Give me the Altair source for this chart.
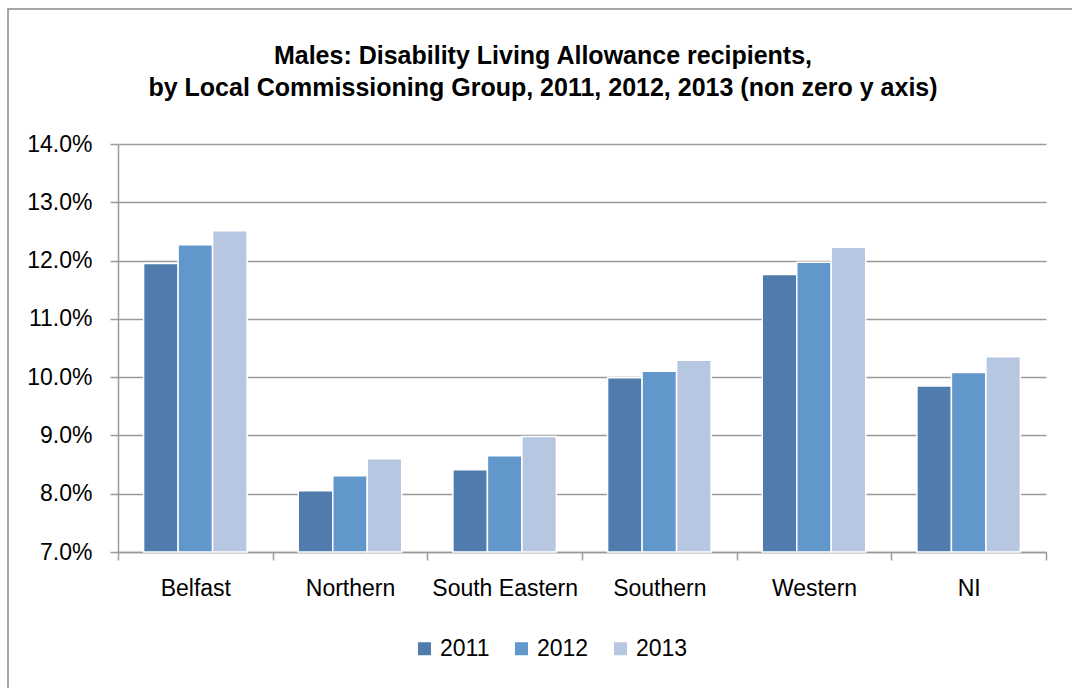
import altair as alt
import pandas as pd

groups = ["Belfast", "Northern", "South Eastern", "Southern", "Western", "NI"]
years = ["2011", "2012", "2013"]
v2011 = [11.95, 8.05, 8.41, 9.99, 11.76, 9.85]
v2012 = [12.27, 8.31, 8.65, 10.10, 11.97, 10.08]
v2013 = [12.51, 8.60, 8.98, 10.29, 12.23, 10.35]
colors = ["#4F7BAD", "#6197CA", "#B8C7E1"]
y_ticks = [0.07, 0.08, 0.09, 0.10, 0.11, 0.12, 0.13, 0.14]

rows = []
for yr, vals in zip(years, [v2011, v2012, v2013]):
    for g, v in zip(groups, vals):
        rows.append({"group": g, "year": yr, "value": v / 100.0})
df = pd.DataFrame(rows)

FONT = "Liberation Sans"
GRAY = "#9a9a9a"

bars = alt.Chart(df).mark_bar(stroke="white", strokeWidth=1.5).encode(
    x=alt.X("group:N", sort=groups,
            scale=alt.Scale(paddingInner=0, paddingOuter=0),
            axis=alt.Axis(title=None, labelAngle=0, tickBand="extent", grid=False,
                          tickSize=8, labelPadding=17, domainColor=GRAY, tickColor=GRAY,
                          domainWidth=1.5, tickWidth=1.5)),
    xOffset=alt.XOffset("year:N", sort=years,
                        scale=alt.Scale(paddingInner=0, paddingOuter=0.742)),
    y=alt.Y("value:Q",
            scale=alt.Scale(domain=[0.07, 0.14], zero=False, clamp=True, nice=False),
            axis=alt.Axis(title=None, values=y_ticks, format=".1%", grid=True,
                          gridColor=GRAY, gridWidth=1.5, domainColor=GRAY, tickColor=GRAY,
                          domainWidth=1.5, tickWidth=1.5, tickSize=8, labelPadding=18)),
    color=alt.Color("year:N", sort=years,
                    scale=alt.Scale(domain=years, range=colors),
                    legend=alt.Legend(title=None, orient="none", direction="horizontal",
                                      legendX=295, legendY=493, symbolType="square",
                                      symbolSize=169, symbolStrokeWidth=0, labelOffset=4,
                                      columnPadding=20, padding=0,
                                      labelFont=FONT, labelFontSize=23, labelColor="black")),
)

border = alt.Chart(alt.Data(values=[{"a": 1}])).mark_rect(
    fill="transparent", stroke="#8a8a8a", strokeWidth=1.5
).encode(
    x=alt.value(-110), x2=alt.value(1100), y=alt.value(-135), y2=alt.value(700)
)

chart = alt.layer(border, bars).properties(
    width=928, height=408,
    padding={"left": 118, "top": 144, "right": 26, "bottom": 136},
    autosize=alt.AutoSizeParams(type="none"),
    title=alt.TitleParams(
        text=["Males: Disability Living Allowance recipients,",
              "by Local Commissioning Group, 2011, 2012, 2013 (non zero y axis)"],
        font=FONT, fontSize=25, fontWeight="bold", color="black",
        lineHeight=32, anchor="middle", frame="group", dx=-39, offset=0, dy=93),
).configure_axis(
    labelFont=FONT, labelFontSize=23, labelColor="black"
).configure_view(strokeWidth=0)

chart.save("out.html", embed_options={"renderer": "svg", "actions": False})
